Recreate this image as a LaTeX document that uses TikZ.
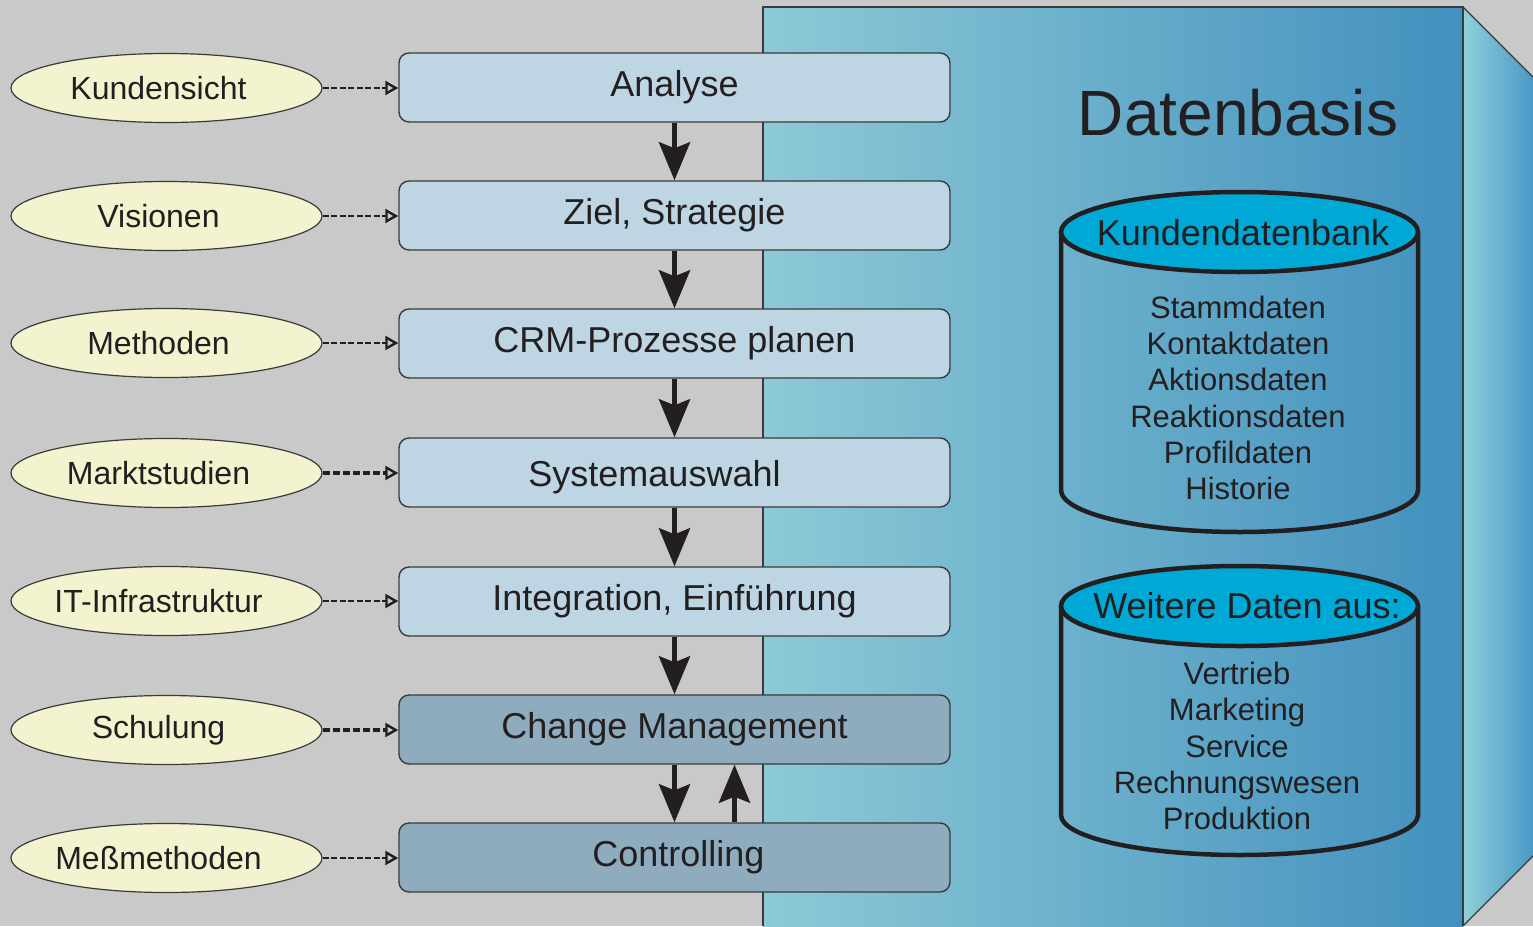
\documentclass[tikz,border=0pt]{standalone}
\usepackage{fontspec}
\setmainfont{Liberation Sans}
\usetikzlibrary{arrows.meta,shapes.geometric}

\definecolor{bg}{HTML}{C9C9C9}
\definecolor{panL}{HTML}{8DCAD6}
\definecolor{panR}{HTML}{4290BE}
\definecolor{sideL}{HTML}{8FD0DA}
\definecolor{sideR}{HTML}{4A98C6}
\definecolor{frameC}{HTML}{3A3A3A}
\definecolor{boxL}{HTML}{BED6E4}
\definecolor{boxD}{HTML}{8FACBF}
\definecolor{ovalC}{HTML}{F3F3D0}
\definecolor{cylTop}{HTML}{00A8D6}
\definecolor{ink}{HTML}{231F20}

% oval label, set slightly left of the oval's centre without widening it
\newcommand{\ovl}[1]{\makebox[0pt]{\hspace*{-16pt}#1}}

\tikzset{
  txt/.style={text=ink, font=\fontsize{36}{40}\selectfont},
  stepbox/.style={draw=frameC, line width=1.4pt, rounded corners=10pt, fill=boxL,
    minimum width=551pt, minimum height=69pt, inner sep=0pt, txt},
  darkbox/.style={stepbox, fill=boxD},
  oval/.style={draw=frameC, line width=1.2pt, fill=ovalC, ellipse,
    minimum width=311pt, minimum height=69pt, inner sep=0pt,
    text=ink, font=\fontsize{32}{36}\selectfont},
  feed/.style={draw=ink, line width=2.6pt, dash pattern=on 6pt off 2.5pt,
    -{Triangle[open, length=13pt, width=14pt, line width=2.4pt]}},
  feedthin/.style={feed, line width=1.6pt},
  feedbold/.style={feed, line width=4pt, dash pattern=on 7pt off 3pt},
  flow/.style={draw=ink, line width=5pt,
    -{Stealth[length=38pt, width=31pt, inset=6pt]}},
  cyl/.style={draw=ink, line width=4.5pt},
  cyltext/.style={text=ink, align=center, font=\fontsize{31}{36.2}\selectfont},
  frame/.style={draw=frameC, line width=2pt},
}

\begin{document}
\begin{tikzpicture}[x=1pt, y=-1pt]
\useasboundingbox (0,0) rectangle (1533,926);
\fill[bg] (0,0) rectangle (1533,926);

% data panel: front face and slanted side face
\shade[left color=panL, right color=panR] (763,7) rectangle (1463,926);
\shade[left color=sideL, right color=sideR]
  (1463,7) -- (1533,77) -- (1533,856) -- (1463,926) -- cycle;
\draw[frame] (763,926) -- (763,7) -- (1463,7) -- (1463,926);
\draw[frameC, line width=1.2pt] (1463,7) -- (1533,77);
\draw[frameC, line width=1.2pt] (1533,856) -- (1463,926);

\node[text=ink, font=\fontsize{64}{70}\selectfont] (title) at (1238,113) {Datenbasis};

% first database
\draw[cyl] (1061,232) -- (1061,490) arc[start angle=180, end angle=360, x radius=178.5pt, y radius=42pt] -- (1418,232);
\filldraw[cyl, fill=cylTop] (1239.5,232) ellipse[x radius=178.5pt, y radius=40pt];
\node[txt] (kdb) at (1243,233) {Kundendatenbank};
\node[cyltext] (kdblist) at (1238,398) {Stammdaten\\Kontaktdaten\\Aktionsdaten\\Reaktionsdaten\\Profildaten\\Historie};

% second database
\draw[cyl] (1061,606) -- (1061,815) arc[start angle=180, end angle=360, x radius=178.5pt, y radius=40pt] -- (1418,606);
\filldraw[cyl, fill=cylTop] (1239.5,606) ellipse[x radius=178.5pt, y radius=40pt];
\node[txt] (wda) at (1247,606) {Weitere Daten aus:};
\node[cyltext] (wdalist) at (1237,746) {Vertrieb\\Marketing\\Service\\Rechnungswesen\\Produktion};

% process steps
\node[stepbox] (analyse) at (674.5,87.5) {Analyse};
\node[stepbox] (ziel)    at (674.5,215.5) {Ziel, Strategie};
\node[stepbox] (crm)     at (674.5,343.5) {CRM-Prozesse planen};
\node[stepbox] (system)  at (674.5,472.5) {\raisebox{-5pt}[\height][\depth]{Systemauswahl}\hspace*{40pt}};
\node[stepbox] (integ)   at (674.5,601.5) {Integration, Einführung};
\node[darkbox] (change)  at (674.5,729.5) {Change Management};
\node[darkbox] (control) at (674.5,857.5) {\hspace*{8pt}Controlling};

% inputs
\node[oval] (o1) at (166.5,88)  {\ovl{Kundensicht}};
\node[oval] (o2) at (166.5,216) {\ovl{Visionen}};
\node[oval] (o3) at (166.5,343) {\ovl{Methoden}};
\node[oval] (o4) at (166.5,473) {\ovl{Marktstudien}};
\node[oval] (o5) at (166.5,601) {\ovl{IT-Infrastruktur}};
\node[oval] (o6) at (166.5,730) {\ovl{Schulung}};
\node[oval] (o7) at (166.5,858) {\ovl{Meßmethoden}};

\draw[feed]     (o1.east) -- (o1.east -| analyse.west);
\draw[feed]     (o2.east) -- (o2.east -| ziel.west);
\draw[feedthin] (o3.east) -- (o3.east -| crm.west);
\draw[feedbold] (o4.east) -- (o4.east -| system.west);
\draw[feedthin] (o5.east) -- (o5.east -| integ.west);
\draw[feedbold] (o6.east) -- (o6.east -| change.west);
\draw[feed]     (o7.east) -- (o7.east -| control.west);

% sequence
\draw[flow] (analyse.south) -- (ziel.north);
\draw[flow] (ziel.south) -- (crm.north);
\draw[flow] (crm.south) -- (system.north);
\draw[flow] (system.south) -- (integ.north);
\draw[flow] (integ.south) -- (change.north);
\draw[flow] (change.south) -- (control.north);
\draw[flow] ([xshift=60pt]control.north) -- ([xshift=60pt]change.south);
\end{tikzpicture}
\end{document}
